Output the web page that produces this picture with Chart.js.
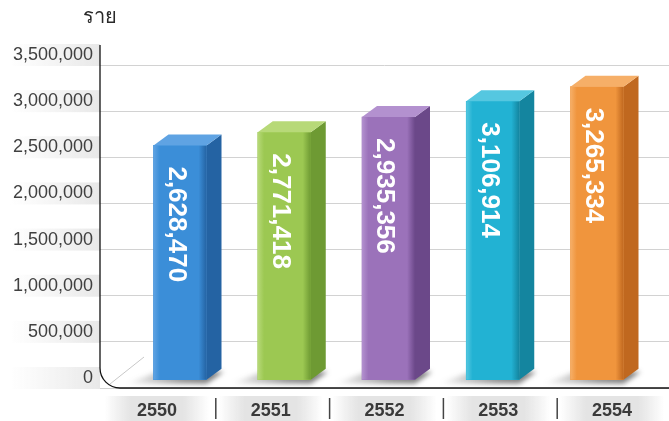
<!DOCTYPE html>
<html>
<head>
<meta charset="utf-8">
<script src="https://cdn.jsdelivr.net/npm/chart.js@4.4.1/dist/chart.umd.min.js"></script>
<style>
  html, body { margin: 0; padding: 0; background: #fff; }
  #wrap { position: relative; width: 669px; height: 421px; }
</style>
</head>
<body>
<div id="wrap"><canvas id="patientChart" width="669" height="421"></canvas></div>
<script>
// Data
const years = ['2550', '2551', '2552', '2553', '2554'];
const patients = [2628470, 2771418, 2935356, 3106914, 3265334];
const yTickStep = 500000;
const yMax = 3500000;
const unitLabel = 'ราย';

// Bar colours (front / side / top)
const frontColors = ['#3b8ed8', '#9cc852', '#9b72ba', '#22b2d3', '#f0953d'];
const sideColors  = ['#2463a3', '#6e9a33', '#6b4889', '#14859f', '#c0681f'];
const topColors   = ['#5fa3e3', '#b7d978', '#b391cf', '#55c7e0', '#f6af68'];

const DX = 15, DY = 11;
const FONT = '"Liberation Sans", Arial, Helvetica, sans-serif';

const decorPlugin = {
    id: 'decor',
    beforeDraw(chart) {
        const ctx = chart.ctx;
        const y = chart.scales.y;
        const x2 = chart.scales.x2;
        const area = chart.chartArea;
        ctx.save();
        // grey bands behind y tick labels
        y.ticks.forEach(t => {
            const py = y.getPixelForValue(t.value) - 10;
            const g = ctx.createLinearGradient(10, 0, area.left, 0);
            g.addColorStop(0, 'rgba(235,235,235,0)');
            g.addColorStop(1, 'rgba(232,232,232,1)');
            ctx.fillStyle = g;
            ctx.fillRect(10, py - 11, area.left - 10, 22);
        });
        // grey bands behind x labels
        years.forEach((lab, i) => {
            const px = x2.getPixelForValue(i);
            const g = ctx.createLinearGradient(px - 52, 0, px + 52, 0);
            g.addColorStop(0, 'rgba(225,225,225,0)');
            g.addColorStop(0.25, 'rgba(228,228,228,1)');
            g.addColorStop(0.75, 'rgba(228,228,228,1)');
            g.addColorStop(1, 'rgba(225,225,225,0)');
            ctx.fillStyle = g;
            ctx.fillRect(px - 52, 396, 104, 25);
        });
        // unit label
        ctx.fillStyle = '#2a2a2a';
        ctx.font = '20px ' + FONT;
        ctx.textAlign = 'center';
        ctx.textBaseline = 'middle';
        ctx.fillText(unitLabel, area.left, 17);
        ctx.restore();
    },
    beforeDatasetsDraw(chart) {
        const ctx = chart.ctx;
        const area = chart.chartArea;
        ctx.save();
        // floor edge
        ctx.strokeStyle = '#c8c8c8';
        ctx.lineWidth = 1;
        ctx.beginPath();
        ctx.moveTo(area.left + 10, area.bottom - 4);
        ctx.lineTo(area.left + 44, area.bottom - 31);
        ctx.stroke();
        // bar shadows
        const meta = chart.getDatasetMeta(0);
        meta.data.forEach(el => {
            const l = el.x - el.width / 2, r = el.x + el.width / 2, b = el.base;
            ctx.save();
            ctx.filter = 'blur(2.5px)';
            const g = ctx.createLinearGradient(l - 28, 0, r + DX, 0);
            g.addColorStop(0, 'rgba(60,60,60,0)');
            g.addColorStop(0.6, 'rgba(60,60,60,0.55)');
            g.addColorStop(1, 'rgba(60,60,60,0.7)');
            ctx.fillStyle = g;
            ctx.beginPath();
            ctx.moveTo(l - 28, b + 4);
            ctx.lineTo(r, b + 4);
            ctx.lineTo(r + DX + 2, b - DY + 3);
            ctx.lineTo(l + 5, b - DY + 3);
            ctx.closePath();
            ctx.fill();
            ctx.restore();
        });
        ctx.restore();
    },
    afterDatasetsDraw(chart) {
        const ctx = chart.ctx;
        const meta = chart.getDatasetMeta(0);
        ctx.save();
        meta.data.forEach((el, i) => {
            const l = el.x - el.width / 2, r = el.x + el.width / 2;
            const t = el.y, b = el.base;
            // front face shading
            const fg = ctx.createLinearGradient(l, 0, r, 0);
            fg.addColorStop(0, topColors[i]);
            fg.addColorStop(0.12, frontColors[i]);
            fg.addColorStop(0.85, frontColors[i]);
            fg.addColorStop(1, sideColors[i]);
            ctx.fillStyle = fg;
            ctx.fillRect(l, t, r - l, b - t);
            // side face
            ctx.fillStyle = sideColors[i];
            ctx.beginPath();
            ctx.moveTo(r, t);
            ctx.lineTo(r + DX, t - DY);
            ctx.lineTo(r + DX, b - DY);
            ctx.lineTo(r, b);
            ctx.closePath();
            ctx.fill();
            // top face
            ctx.fillStyle = topColors[i];
            ctx.beginPath();
            ctx.moveTo(l, t);
            ctx.lineTo(l + DX, t - DY);
            ctx.lineTo(r + DX, t - DY);
            ctx.lineTo(r, t);
            ctx.closePath();
            ctx.fill();
            // value label
            ctx.save();
            ctx.translate(el.x - 4, t + 21);
            ctx.rotate(Math.PI / 2);
            ctx.fillStyle = '#fff';
            ctx.font = 'bold 26px ' + FONT;
            ctx.textAlign = 'left';
            ctx.textBaseline = 'middle';
            ctx.fillText(patients[i].toLocaleString('en-US'), 0, 0);
            ctx.restore();
        });
        ctx.restore();
    },
    afterDraw(chart) {
        const ctx = chart.ctx;
        const area = chart.chartArea;
        const x2 = chart.scales.x2;
        const rad = 20;
        ctx.save();
        // axis frame with rounded corner
        ctx.strokeStyle = '#111';
        ctx.lineWidth = 1.3;
        ctx.beginPath();
        ctx.moveTo(area.left, 45);
        ctx.lineTo(area.left, area.bottom - rad);
        ctx.arcTo(area.left, area.bottom, area.left + rad, area.bottom, rad);
        ctx.lineTo(chart.width, area.bottom);
        ctx.stroke();
        // separators between x labels
        ctx.strokeStyle = '#444';
        ctx.lineWidth = 1.5;
        for (let i = 0; i < years.length - 1; i++) {
            const px = (x2.getPixelForValue(i) + x2.getPixelForValue(i + 1)) / 2 + 2;
            ctx.beginPath();
            ctx.moveTo(px, 398);
            ctx.lineTo(px, 419);
            ctx.stroke();
        }
        ctx.restore();
    }
};

const ctx = document.getElementById('patientChart');
new Chart(ctx, {
    type: 'bar',
    data: {
        labels: years,
        datasets: [{
            data: patients.map((v, i) => ({ x: i, y: v })),
            xAxisID: 'x',
            yAxisID: 'y',
            backgroundColor: frontColors,
            barThickness: 53,
            base: 90000
        }]
    },
    options: {
        responsive: false,
        animation: false,
        layout: { padding: { top: 65, right: 0, left: 0, bottom: 0 } },
        plugins: {
            legend: { display: false },
            tooltip: { enabled: false }
        },
        scales: {
            x: {
                type: 'linear',
                min: -0.7674,
                max: 4.6906,
                offset: false,
                display: false
            },
            x2: {
                type: 'category',
                axis: 'x',
                position: 'bottom',
                labels: years,
                offset: true,
                grid: { display: false, drawTicks: false },
                border: { display: false },
                ticks: {
                    color: '#3a3a3a',
                    font: { family: FONT, size: 18, weight: 'bold' },
                    padding: 12
                },
                afterFit: s => { s.height = 33; }
            },
            y: {
                min: 0,
                max: yMax,
                ticks: {
                    stepSize: yTickStep,
                    color: '#404040',
                    font: { family: FONT, size: 18 },
                    padding: 7,
                    labelOffset: -10,
                    callback: v => v.toLocaleString('en-US')
                },
                grid: { color: '#d2d2d2', drawTicks: false },
                border: { display: false },
                afterFit: s => { s.width = 100; }
            }
        }
    },
    plugins: [decorPlugin]
});
</script>
</body>
</html>
